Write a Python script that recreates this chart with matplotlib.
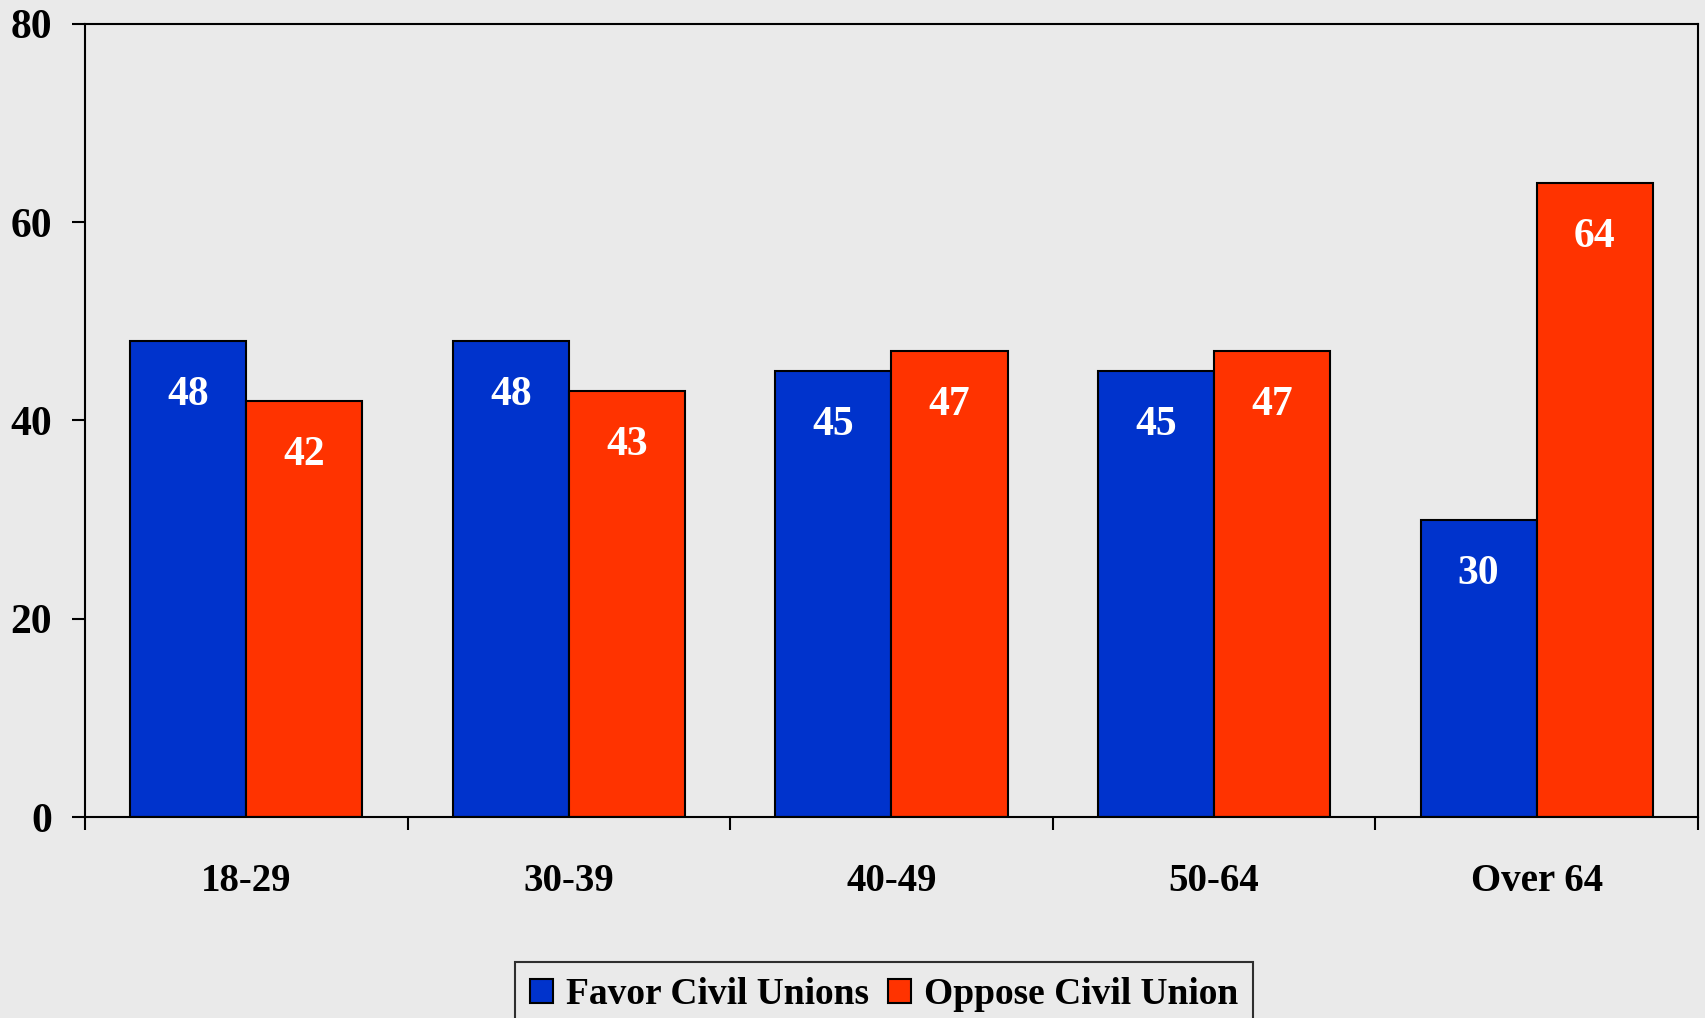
import numpy as np
import matplotlib.pyplot as plt

groups = ['18-29', '30-39', '40-49', '50-64', 'Over 64']
favor = [48, 48, 45, 45, 30]
oppose = [42, 43, 47, 47, 64]
y_ticks = [0, 20, 40, 60, 80]

bg = '#EAEAEA'
blue = '#0033CC'
red = '#FF3300'

plt.rcParams['font.family'] = ['Liberation Serif', 'DejaVu Serif']
plt.rcParams['font.weight'] = 'bold'

fig = plt.figure(figsize=(17.06, 10.18), dpi=100, facecolor=bg)
ax = fig.add_axes([85/1706, 1-817/1018, (1698-85)/1706, (817-24)/1018])
ax.set_facecolor(bg)

x = np.arange(len(groups))
w = 0.36
b1 = ax.bar(x - w/2, favor, w, color=blue, edgecolor='black', linewidth=1.5,
            label='Favor Civil Unions')
b2 = ax.bar(x + w/2, oppose, w, color=red, edgecolor='black', linewidth=1.5,
            label='Oppose Civil Union')

for bars in (b1, b2):
    for r in bars:
        ax.annotate('%d' % r.get_height(), (r.get_x() + r.get_width()/2, r.get_height()),
                    xytext=(0, -39), textcoords='offset points', ha='center', va='center',
                    color='white', fontsize=30, fontweight='bold')

ax.set_xlim(-0.5, len(groups) - 0.5)
ax.set_ylim(0, 80)
ax.set_yticks(y_ticks)
ax.set_yticklabels([str(v) for v in y_ticks])
ax.set_xticks(np.arange(len(groups) + 1) - 0.5)
ax.set_xticklabels([])
ax.set_xticks(x, minor=True)
ax.set_xticklabels(groups, minor=True)

ax.tick_params(axis='y', length=9.5, width=1.5, pad=14, labelsize=30)
ax.tick_params(axis='x', which='major', length=9.5, width=1.5)
ax.tick_params(axis='x', which='minor', length=0, pad=33, labelsize=28)
for s in ax.spines.values():
    s.set_linewidth(1.5)
    s.set_color('black')

leg = fig.legend(loc='upper center', bbox_to_anchor=(884/1706, 1-962/1018), ncol=2,
                 fontsize=27, frameon=True, fancybox=False, edgecolor='black',
                 facecolor=bg, handlelength=0.62, handleheight=0.62, handletextpad=0.35,
                 columnspacing=0.5, borderpad=0.4, borderaxespad=0)
leg.get_frame().set_linewidth(1.5)

plt.savefig('out.png', dpi=100, facecolor=bg)
